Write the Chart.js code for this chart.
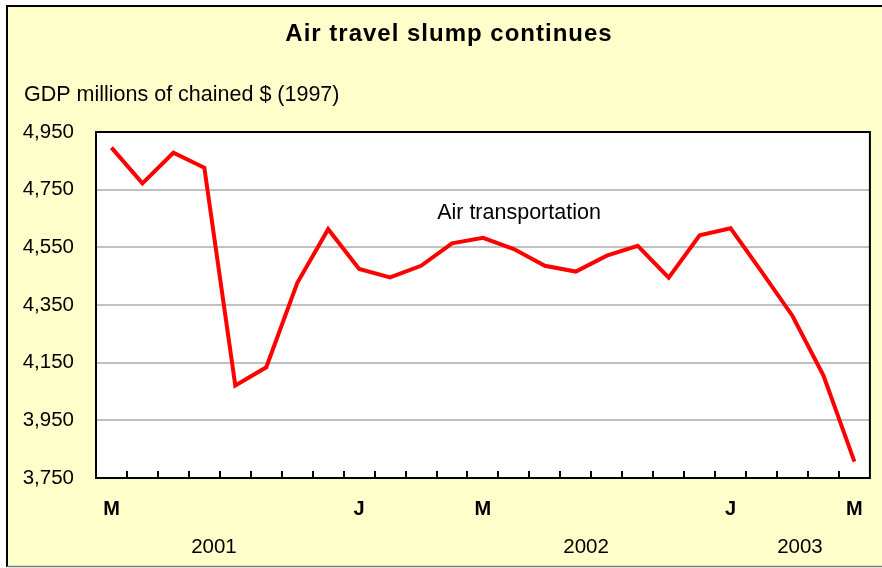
<!DOCTYPE html>
<html>
<head>
<meta charset="utf-8">
<script src="https://cdn.jsdelivr.net/npm/chart.js@4"></script>
<style>
  html, body { margin: 0; padding: 0; background: #ffffff; }
  #wrap { width: 882px; height: 568px; }
</style>
</head>
<body>
<div id="wrap"><canvas id="c" width="882" height="568"></canvas></div>
<script>
// ---- Data ----
const months = ['May 2001','Jun 2001','Jul 2001','Aug 2001','Sep 2001','Oct 2001','Nov 2001','Dec 2001',
  'Jan 2002','Feb 2002','Mar 2002','Apr 2002','May 2002','Jun 2002','Jul 2002','Aug 2002','Sep 2002','Oct 2002','Nov 2002','Dec 2002',
  'Jan 2003','Feb 2003','Mar 2003','Apr 2003','May 2003'];
const monthTickLabels = ['M','','','','','','','','J','','','','M','','','','','','','','J','','','','M'];
const airTransport = [4896, 4772, 4878, 4826, 4071, 4134, 4426, 4613,
  4475, 4446, 4486, 4564, 4583, 4544, 4486, 4466, 4521, 4555, 4445, 4592,
  4616, 4466, 4312, 4105, 3807];
const yearLabels = ['2001', '2002', '2003'];
const yearLabelAt = [3.31, 15.33, 22.24];      // category-index positions
const yTickValues = [3750, 3950, 4150, 4350, 4550, 4750, 4950];
const seriesLabel = 'Air transportation';
const seriesLabelAt = { x: 10.52, y: 4669 };   // data-space position

const FONT = "'Liberation Sans', Arial, sans-serif";

const decorPlugin = {
  id: 'decor',
  beforeDraw(chart) {
    const ctx = chart.ctx;
    ctx.save();
    ctx.fillStyle = '#ffffff';
    ctx.fillRect(0, 0, chart.width, chart.height);
    ctx.fillStyle = '#FFFFCC';
    ctx.fillRect(7, 6, chart.width - 7, 560);
    ctx.strokeStyle = '#000000';
    ctx.lineWidth = 2;
    ctx.beginPath();
    ctx.moveTo(7, 567); ctx.lineTo(7, 6); ctx.lineTo(chart.width, 6);
    ctx.stroke();
    ctx.strokeStyle = '#777777';
    ctx.lineWidth = 1.5;
    ctx.beginPath();
    ctx.moveTo(7, 566.5); ctx.lineTo(chart.width, 566.5);
    ctx.stroke();
    const a = chart.chartArea;
    ctx.fillStyle = '#ffffff';
    ctx.fillRect(a.left, a.top, a.right - a.left, a.bottom - a.top);
    // title
    ctx.fillStyle = '#000000';
    ctx.font = 'bold 24px ' + FONT;
    ctx.textAlign = 'center';
    ctx.textBaseline = 'middle';
    try { ctx.letterSpacing = '1px'; } catch (e) {}
    ctx.fillText('Air travel slump continues', 449, 34);
    try { ctx.letterSpacing = '0px'; } catch (e) {}
    // axis title
    ctx.font = '21.5px ' + FONT;
    ctx.textAlign = 'left';
    ctx.fillText('GDP millions of chained $ (1997)', 24, 95);
    ctx.restore();
  },
  afterDatasetsDraw(chart) {
    const ctx = chart.ctx;
    const a = chart.chartArea;
    const xs = chart.scales.x, ys = chart.scales.y;
    ctx.save();
    // plot border
    ctx.strokeStyle = '#000000';
    ctx.lineWidth = 2;
    ctx.strokeRect(a.left, a.top, a.right - a.left, a.bottom - a.top);
    // inward tick marks at category boundaries
    ctx.lineWidth = 2;
    ctx.beginPath();
    for (let i = 1; i < months.length; i++) {
      const x = Math.round((xs.getPixelForTick(i - 1) + xs.getPixelForTick(i)) / 2);
      ctx.moveTo(x, a.bottom);
      ctx.lineTo(x, a.bottom - 7);
    }
    ctx.stroke();
    // series label
    ctx.fillStyle = '#000000';
    ctx.font = '21.5px ' + FONT;
    ctx.textAlign = 'left';
    ctx.textBaseline = 'middle';
    ctx.fillText(seriesLabel, xs.getPixelForValue(seriesLabelAt.x), ys.getPixelForValue(seriesLabelAt.y));
    // year labels
    ctx.font = '20.5px ' + FONT;
    ctx.textAlign = 'center';
    yearLabels.forEach((t, i) => {
      ctx.fillText(t, xs.getPixelForValue(yearLabelAt[i]), 547);
    });
    ctx.restore();
  }
};

new Chart(document.getElementById('c'), {
  type: 'line',
  data: {
    labels: months,
    datasets: [{
      label: seriesLabel,
      data: airTransport,
      borderColor: '#FF0000',
      borderWidth: 4,
      pointRadius: 0,
      tension: 0,
      fill: false
    }]
  },
  options: {
    responsive: false,
    animation: false,
    devicePixelRatio: 1,
    layout: { padding: { left: 0, right: 12, top: 132, bottom: 0 } },
    plugins: { legend: { display: false }, title: { display: false }, tooltip: { enabled: false } },
    scales: {
      x: {
        type: 'category',
        offset: true,
        grid: { display: false, drawTicks: false },
        border: { display: false },
        afterFit(s) { s.height = 90; },
        ticks: {
          autoSkip: false,
          maxRotation: 0,
          minRotation: 0,
          padding: 19,
          color: '#000000',
          font: { family: FONT, size: 20, weight: 'bold' },
          callback: (v, i) => monthTickLabels[i]
        }
      },
      y: {
        min: 3750,
        max: 4950,
        afterFit(s) { s.width = 96; },
        afterBuildTicks(s) { s.ticks = yTickValues.map(v => ({ value: v })); },
        grid: { color: '#C0C0C0', lineWidth: 2, drawTicks: false },
        border: { display: false },
        ticks: {
          padding: 22,
          color: '#000000',
          font: { family: FONT, size: 20.5 },
          callback: v => v.toLocaleString('en-US')
        }
      }
    }
  },
  plugins: [decorPlugin]
});
</script>
</body>
</html>
